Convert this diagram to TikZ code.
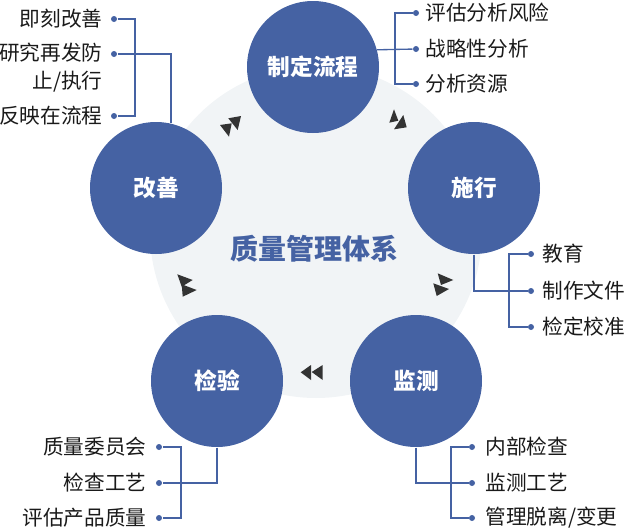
\documentclass[tikz,border=0pt]{standalone}
\usepackage{fontspec}
\setmainfont{Noto Sans CJK SC}

\tikzset{every picture/.style={line width=0.75pt}}
\tikzset{
  phase/.style={circle, minimum size=99pt, inner sep=0pt, fill={rgb, 255:red, 69; green, 98; blue, 163 }, text=white, font=\bfseries\fontsize{17}{20}\selectfont},
  dot/.style={circle, minimum size=4.5pt, inner sep=0pt, fill={rgb, 255:red, 69; green, 98; blue, 163 }},
  link/.style={color={rgb, 255:red, 69; green, 98; blue, 163 }, line width=1pt},
  item/.style={inner sep=0.75pt, text={rgb, 255:red, 26; green, 26; blue, 26 }, font=\fontsize{15.5}{21}\selectfont},
  tri/.style={fill={rgb, 255:red, 51; green, 51; blue, 51 }},
}

\begin{document}
\begin{tikzpicture}[x=0.75pt,y=0.75pt,yscale=-1,xscale=1]
\useasboundingbox (0,0) rectangle (625,532);

%Shape: Circle (background)
\fill [color={rgb, 255:red, 241; green, 244; blue, 246 }] (316,232) circle (166);

%Shape: Circle
\node (c1) [phase] at (313,67) {制定流程};
\node (c2) [phase] at (474,188) {施行};
\node (c3) [phase] at (416,381) {监测};
\node (c4) [phase] at (217,381) {检验};
\node (c5) [phase] at (156,188) {改善};

% Text Node
\node (title) [font=\bfseries\fontsize{21}{24}\selectfont, text={rgb, 255:red, 69; green, 98; blue, 163 }] at (314,249) {质量管理体系};

%Shape: Triangle
\fill [tri] (220,125) -- (231.7,123.3) -- (229,136.7) -- cycle;
\fill [tri] (228.3,118.3) -- (241,116) -- (237.7,130) -- cycle;
\fill [tri] (394,109.3) -- (389.3,122.7) -- (398.3,120.7) -- cycle;
\fill [tri] (403.3,115) -- (394,129.3) -- (406.7,127.3) -- cycle;
\fill [tri] (437.7,273.3) -- (453.3,280) -- (441,285) -- cycle;
\fill [tri] (433.3,283.3) -- (449,289) -- (436.7,296) -- cycle;
\fill [tri] (300.7,372.3) -- (311,365) -- (311,380) -- cycle;
\fill [tri] (311.7,372) -- (322.7,365) -- (322.7,380) -- cycle;
\fill [tri] (177.3,274.3) -- (192.7,280) -- (181.7,286.7) -- cycle;
\fill [tri] (181.7,284.3) -- (196.7,290) -- (182.7,296.7) -- cycle;

%Shape: Dots
\node (b11) [dot] at (114,19) {};
\node (b12) [dot] at (114,54) {};
\node (b13) [dot] at (114,116) {};
\node (b21) [dot] at (416,13) {};
\node (b22) [dot] at (416,49) {};
\node (b23) [dot] at (416,84) {};
\node (b31) [dot] at (531,254) {};
\node (b32) [dot] at (531,291) {};
\node (b33) [dot] at (531,327) {};
\node (b41) [dot] at (159,447) {};
\node (b42) [dot] at (159,483) {};
\node (b43) [dot] at (159,518) {};
\node (b51) [dot] at (472,447) {};
\node (b52) [dot] at (472,483) {};
\node (b53) [dot] at (472,518) {};

\coordinate (k1) at (135,116);
\coordinate (k2) at (395,84);
\coordinate (k3) at (509,327);
\coordinate (k4) at (181,518);
\coordinate (k5) at (451,518);

%Straight Lines
\draw [link] (b11) -| (k1) -- (b13);
\draw [link] (c5.77) |- (b12);
\draw [link] (b21) -| (k2) -- (b23);
\draw [link] (c1.15.8) -- (b22);
\draw [link] (b31) -| (k3) -- (b33);
\draw [link] (c2.south) |- (b32);
\draw [link] (b41) -| (k4) -- (b43);
\draw [link] (c4.south) |- (b42);
\draw [link] (b51) -| (k5) -- (b53);
\draw [link] (c3.south) |- (b52);

% Text Node
\node (t11) [item, anchor=east] at (104,19) {即刻改善};
\node (t12) [item, anchor=east, align=right] at (104,68) {研究再发防\\止/执行};
\node (t13) [item, anchor=east] at (104,116) {反映在流程};
% Text Node
\node (t21) [item, anchor=west] at (424,13) {评估分析风险};
\node (t22) [item, anchor=west] at (424,49) {战略性分析};
\node (t23) [item, anchor=west] at (424,84) {分析资源};
% Text Node
\node (t31) [item, anchor=west] at (541,254) {教育};
\node (t32) [item, anchor=west] at (541,291) {制作文件};
\node (t33) [item, anchor=west] at (541,327) {检定校准};
% Text Node
\node (t41) [item, anchor=east] at (148,447) {质量委员会};
\node (t42) [item, anchor=east] at (148,483) {检查工艺};
\node (t43) [item, anchor=east] at (148,518) {评估产品质量};
% Text Node
\node (t51) [item, anchor=west] at (484,447) {内部检查};
\node (t52) [item, anchor=west] at (484,483) {监测工艺};
\node (t53) [item, anchor=west] at (484,518) {管理脱离/变更};

\end{tikzpicture}
\end{document}
